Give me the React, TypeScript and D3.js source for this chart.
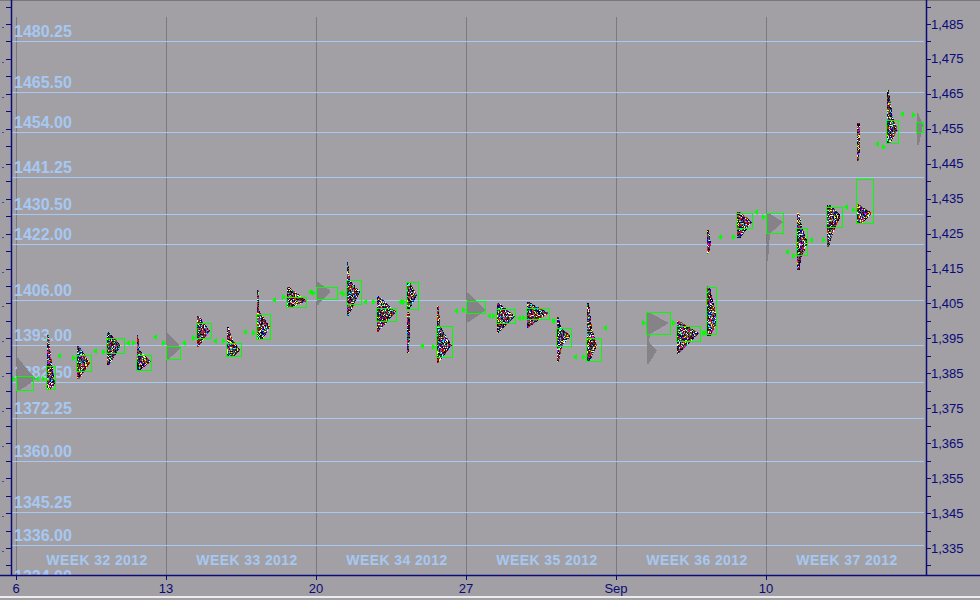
import React from "react";
import * as d3 from "d3";

const W = 980;
const H = 600;

// Left-side reference price levels (drawn as light-blue lines with labels)
const refLevels = [1480.25, 1465.5, 1454.0, 1441.25, 1430.5, 1422.0, 1406.0, 1393.0, 1382.5, 1372.25, 1360.0, 1345.25, 1336.0, 1324.0];
// Right axis ticks
const rightMajor = [1335, 1345, 1355, 1365, 1375, 1385, 1395, 1405, 1415, 1425, 1435, 1445, 1455, 1465, 1475, 1485];
const rightMinor = [1330, 1340, 1350, 1360, 1370, 1380, 1390, 1400, 1410, 1420, 1430, 1440, 1450, 1460, 1470, 1480, 1490];
// Date axis
const dateLabels = ["6", "13", "20", "27", "Sep", "10"];
const dateSlots = [0, 5, 10, 15, 20, 25];
const weekLabels = ["WEEK 32 2012", "WEEK 33 2012", "WEEK 34 2012", "WEEK 35 2012", "WEEK 36 2012", "WEEK 37 2012"];

type Profile = {
  slot: number;
  eth: boolean;
  knots: [number, number][]; // [price, TPO count]
  va: [number, number]; // value area high, low
  vaW: number; // value-area box width in TPOs
  open: number | null;
  close: number | null;
};

const week32: Profile[] = [
  { slot: 0, eth: true, knots: [[1389.5, 1], [1385.5, 12], [1383.4, 19], [1381.5, 10], [1380.2, 3]], va: [1384.25, 1380.25], vaW: 17, open: 1383.4, close: 1383.4 },
  { slot: 1, eth: false, knots: [[1396.0, 2], [1390.0, 4], [1384.0, 7], [1382.0, 8], [1380.5, 4]], va: [1387.1, 1380.5], vaW: 9, open: 1383.4, close: 1390.0 },
  { slot: 2, eth: false, knots: [[1392.8, 2], [1388.0, 13], [1383.7, 3]], va: [1390.25, 1385.7], vaW: 15, open: 1389.4, close: 1391.4 },
  { slot: 3, eth: false, knots: [[1396.8, 2], [1393.0, 14], [1387.7, 3]], va: [1395.1, 1390.8], vaW: 18, open: 1391.1, close: 1393.6 },
  { slot: 4, eth: false, knots: [[1396.0, 1], [1391.5, 3], [1388.25, 14], [1386.25, 4]], va: [1390.25, 1386.0], vaW: 15, open: 1393.6, close: 1395.3 },
];
const week33: Profile[] = [
  { slot: 5, eth: true, knots: [[1396.5, 1], [1392.5, 14], [1389.4, 3]], va: [1392.8, 1389.1], vaW: 14, open: 1393.6, close: 1393.6 },
  { slot: 6, eth: false, knots: [[1401.4, 2], [1397.1, 13], [1392.8, 2]], va: [1399.4, 1395.1], vaW: 15, open: 1395.1, close: 1394.25 },
  { slot: 7, eth: false, knots: [[1398.25, 2], [1395.0, 5], [1391.7, 13], [1390.0, 8]], va: [1393.6, 1390.0], vaW: 15, open: 1394.25, close: 1396.8 },
  { slot: 8, eth: false, knots: [[1408.9, 2], [1403.0, 2], [1398.3, 13], [1394.8, 6]], va: [1402.0, 1394.8], vaW: 14, open: 1396.5, close: 1406.0 },
  { slot: 9, eth: false, knots: [[1409.7, 2], [1405.7, 20], [1404.0, 5]], va: [1406.85, 1404.0], vaW: 20, open: 1406.85, close: 1408.3 },
];
const week34: Profile[] = [
  { slot: 10, eth: true, knots: [[1411.1, 1], [1408.6, 14], [1404.85, 2]], va: [1409.7, 1406.3], vaW: 21, open: 1408.0, close: 1408.0 },
  { slot: 11, eth: false, knots: [[1416.9, 1], [1411.7, 3], [1408.3, 13], [1401.7, 2]], va: [1411.7, 1404.85], vaW: 15, open: 1407.7, close: 1405.4 },
  { slot: 12, eth: false, knots: [[1407.1, 2], [1402.6, 19], [1397.1, 2]], va: [1403.7, 1400.0], vaW: 20, open: 1405.4, close: 1405.4 },
  { slot: 13, eth: false, knots: [[1411.1, 3], [1407.4, 10], [1403.6, 3], [1403.3, 0], [1402.6, 0], [1402.3, 3], [1397.0, 3], [1391.1, 2]], va: [1411.1, 1403.4], vaW: 12, open: 1405.4, close: 1392.8 },
  { slot: 14, eth: false, knots: [[1404.3, 2], [1399.0, 3], [1397.5, 5], [1393.0, 15], [1388.25, 2]], va: [1398.5, 1389.7], vaW: 16, open: 1392.5, close: 1402.8 },
];
const week35: Profile[] = [
  { slot: 15, eth: true, knots: [[1408.0, 1], [1403.1, 19], [1400.0, 3]], va: [1405.7, 1402.3], vaW: 19, open: 1403.1, close: 1401.4 },
  { slot: 16, eth: false, knots: [[1405.1, 2], [1401.4, 18], [1396.8, 2]], va: [1403.4, 1399.4], vaW: 19, open: 1401.4, close: 1400.85 },
  { slot: 17, eth: false, knots: [[1405.4, 2], [1402.3, 22], [1398.25, 2]], va: [1403.7, 1400.6], vaW: 23, open: 1400.85, close: 1400.0 },
  { slot: 18, eth: false, knots: [[1401.1, 2], [1398.0, 4], [1395.7, 14], [1392.8, 5], [1388.5, 2]], va: [1398.0, 1392.8], vaW: 15, open: 1400.0, close: 1389.7 },
  { slot: 19, eth: false, knots: [[1405.1, 2], [1398.0, 5], [1393.0, 10], [1388.5, 3]], va: [1395.1, 1388.5], vaW: 15, open: 1389.7, close: 1398.0 },
];
const week36: Profile[] = [
  { slot: 21, eth: true, knots: [[1402.6, 1], [1399.4, 22], [1396.25, 3], [1394.0, 2], [1391.5, 10], [1388.0, 2]], va: [1402.6, 1396.25], vaW: 24, open: 1399.4, close: null },
  { slot: 22, eth: false, knots: [[1400.0, 2], [1396.5, 22], [1390.8, 2]], va: [1398.5, 1394.25], vaW: 24, open: 1399.4, close: 1396.5 },
  { slot: 23, eth: false, knots: [[1426.0, 2], [1422.0, 4], [1419.5, 2], [1419.2, 0], [1410.0, 0], [1409.7, 3], [1402.0, 9], [1398.8, 9], [1396.0, 4]], va: [1409.7, 1396.25], vaW: 10, open: 1396.5, close: 1424.0 },
  { slot: 24, eth: false, knots: [[1431.2, 3], [1428.3, 15], [1424.0, 4]], va: [1430.9, 1426.6], vaW: 16, open: 1424.0, close: 1431.2 },
];
const week37: Profile[] = [
  { slot: 25, eth: true, knots: [[1430.9, 2], [1428.3, 16], [1425.0, 3], [1417.4, 1]], va: [1430.9, 1425.1], vaW: 17, open: 1429.8, close: 1419.7 },
  { slot: 26, eth: false, knots: [[1430.9, 2], [1426.0, 6], [1422.3, 11], [1418.0, 4], [1414.9, 3]], va: [1426.6, 1418.9], vaW: 11, open: 1418.6, close: 1423.1 },
  { slot: 27, eth: false, knots: [[1433.2, 3], [1430.3, 14], [1425.0, 6], [1421.4, 2]], va: [1432.6, 1426.9], vaW: 16, open: 1423.1, close: 1432.6 },
  { slot: 28, eth: false, knots: [[1456.7, 3], [1450.0, 3], [1446.0, 2], [1445.7, 0], [1433.5, 0], [1433.2, 3], [1430.9, 15], [1428.0, 5]], va: [1440.6, 1428.0], vaW: 17, open: 1431.75, close: 1450.6 },
  { slot: 29, eth: false, knots: [[1466.1, 2], [1458.0, 6], [1454.7, 11], [1451.2, 4]], va: [1457.5, 1450.9], vaW: 12, open: 1449.8, close: 1459.2 },
  { slot: 30, eth: true, knots: [[1459.5, 1], [1456.1, 6], [1450.6, 2]], va: [1457.0, 1454.1], vaW: 7, open: 1459.0, close: null },
];

const profiles: Profile[] = [...week32, ...week33, ...week34, ...week35, ...week36, ...week37];

const palette = ["#000000", "#000000", "#0000ff", "#ff00ff", "#ffff00", "#ffffff", "#00ffff", "#804000", "#808000", "#ff0000", "#000080", "#800000", "#008080", "#400040", "#6b4423", "#303030"];

function pick(a: number, b: number, c: number) {
  let h = (Math.imul(a + 1, 374761393) + Math.imul(b + 7, 668265263) + Math.imul(c + 13, -2048144777)) | 0;
  h = Math.imul(h ^ (h >>> 13), 1274126177);
  h ^= h >>> 16;
  return palette[(h >>> 0) % palette.length];
}

function widthAt(knots: [number, number][], p: number) {
  for (let i = 0; i < knots.length - 1; i++) {
    const [p0, w0] = knots[i];
    const [p1, w1] = knots[i + 1];
    if (p <= p0 && p >= p1) {
      const t = (p0 - p) / (p0 - p1);
      return w0 + (w1 - w0) * t;
    }
  }
  return 0;
}

const BG = "#a2a0a5";
const BLUE = "#a6c8f2";
const NAVY = "#0a0a78";
const LIME = "#00ff00";

export default function App() {
  const y = d3.scaleLinear().domain([1335, 1485]).range([548, 24]);
  const x = d3.scaleLinear().domain([0, 30]).range([16, 916]);
  const tpo = d3.scaleLinear().domain([0, 1]).range([0, 1]);
  const fmt = d3.format(",");

  const plotL = 11, plotR = 926, plotB = 575;

  const cells: React.ReactNode[] = [];
  const boxes: React.ReactNode[] = [];
  const marks: React.ReactNode[] = [];

  profiles.forEach((pr, pi) => {
    const x0 = Math.round(x(pr.slot));
    const hi = pr.knots[0][0];
    const lo = pr.knots[pr.knots.length - 1][0];
    const yTop = Math.round(y(hi));
    const yBot = Math.round(y(lo));
    for (let py = yTop; py <= yBot; py++) {
      const price = Math.min(hi, Math.max(lo, y.invert(py + 0.5)));
      const w = Math.round(tpo(widthAt(pr.knots, price)));
      if (w <= 0) continue;
      if (pr.eth) {
        cells.push(<rect key={`g${pi}-${py}`} x={x0 + 1} y={py} width={w} height={1} fill="#858387" />);
      } else {
        for (let c = 0; c < w; c++) {
          cells.push(<rect key={`c${pi}-${py}-${c}`} x={x0 + 1 + c} y={py} width={1} height={1} fill={pick(pi, py, c)} />);
        }
      }
    }
    const vy0 = Math.round(y(pr.va[0])) + 0.5;
    const vy1 = Math.round(y(pr.va[1])) + 0.5;
    const vw = Math.round(tpo(pr.vaW));
    boxes.push(<rect key={`va${pi}`} x={x0 + 0.5} y={vy0} width={vw} height={vy1 - vy0} fill="none" stroke={LIME} strokeWidth={1} />);
    if (pr.open !== null) {
      const oy = Math.round(y(pr.open));
      marks.push(<path key={`o${pi}`} d={`M${x0 - 4},${oy - 3}L${x0},${oy}L${x0 - 4},${oy + 3}Z`} fill={LIME} />);
    }
    if (pr.close !== null) {
      const cy = Math.round(y(pr.close));
      const cx = x0 + vw + 2;
      marks.push(<path key={`cl${pi}`} d={`M${cx + 4},${cy - 3}L${cx},${cy}L${cx + 4},${cy + 3}Z`} fill={LIME} />);
    }
  });

  const allTicks = [...rightMajor, ...rightMinor];

  return (
    <div style={{ position: "fixed", left: 0, top: 0, width: W, height: H }}>
      <svg width={W} height={H} style={{ display: "block", fontFamily: "Arial, 'Liberation Sans', sans-serif" }}>
        <defs>
          <clipPath id="plot">
            <rect x={plotL + 1} y={0} width={plotR - plotL - 1} height={plotB} />
          </clipPath>
        </defs>
        <rect x={0} y={0} width={W} height={H} fill={BG} />
        <line x1={0} x2={W} y1={0.5} y2={0.5} stroke="#7a787c" />

        <g clipPath="url(#plot)">
          {/* day separators */}
          {dateSlots.map((s, i) => (
            <line key={`v${i}`} x1={Math.round(x(s)) + 0.5} x2={Math.round(x(s)) + 0.5} y1={17} y2={plotB} stroke="#7c7a7f" strokeWidth={1} />
          ))}
          {/* reference levels */}
          {refLevels.map((lv, i) => {
            const ly = Math.round(y(lv)) + 0.5;
            return (
              <g key={`l${i}`}>
                <line x1={plotL} x2={plotR - 2} y1={ly} y2={ly} stroke={BLUE} strokeWidth={1} />
                <text x={14} y={ly - 5} fill={BLUE} fontSize={16} fontWeight="bold">{lv.toFixed(2)}</text>
              </g>
            );
          })}
          {weekLabels.map((wl, i) => (
            <text key={`w${i}`} x={x(dateSlots[i]) + 81} y={565} fill={BLUE} fontSize={14} fontWeight="bold" letterSpacing={0.4} textAnchor="middle">{wl}</text>
          ))}
          {cells}
          {boxes}
          {marks}
        </g>

        {/* left axis */}
        <line x1={plotL + 0.5} x2={plotL + 0.5} y1={0} y2={plotB} stroke={NAVY} strokeWidth={1.5} />
        {allTicks.map((t) => {
          const ty = Math.round(y(t)) + 0.5;
          return ty < plotB ? <line key={`lt${t}`} x1={6} x2={plotL} y1={ty} y2={ty} stroke={NAVY} /> : null;
        })}
        {rightMajor.map((t) => {
          const ty = Math.round(y(t)) + 3.5;
          return <line key={`ld${t}`} x1={2} x2={4} y1={ty} y2={ty} stroke="#4a4a9a" />;
        })}

        {/* right axis */}
        <line x1={plotR + 0.5} x2={plotR + 0.5} y1={0} y2={plotB} stroke={NAVY} strokeWidth={1.5} />
        {allTicks.map((t) => {
          const ty = Math.round(y(t)) + 0.5;
          return ty < plotB ? <line key={`rt${t}`} x1={plotR} x2={plotR + 5} y1={ty} y2={ty} stroke={NAVY} /> : null;
        })}
        {rightMajor.map((t) => (
          <text key={`rl${t}`} x={931} y={y(t)} dy="0.35em" fill={NAVY} fontSize={13}>{fmt(t)}</text>
        ))}

        {/* bottom axis */}
        <line x1={0} x2={W} y1={plotB + 0.5} y2={plotB + 0.5} stroke={NAVY} strokeWidth={1.5} />
        {dateSlots.map((s, i) => (
          <g key={`d${i}`}>
            <line x1={Math.round(x(s)) + 0.5} x2={Math.round(x(s)) + 0.5} y1={plotB} y2={plotB + 5} stroke={NAVY} />
            <text x={x(s)} y={593} fill={NAVY} fontSize={13} textAnchor="middle">{dateLabels[i]}</text>
          </g>
        ))}
        <rect x={0} y={596} width={W} height={2} fill="#ececec" />
      </svg>
    </div>
  );
}
